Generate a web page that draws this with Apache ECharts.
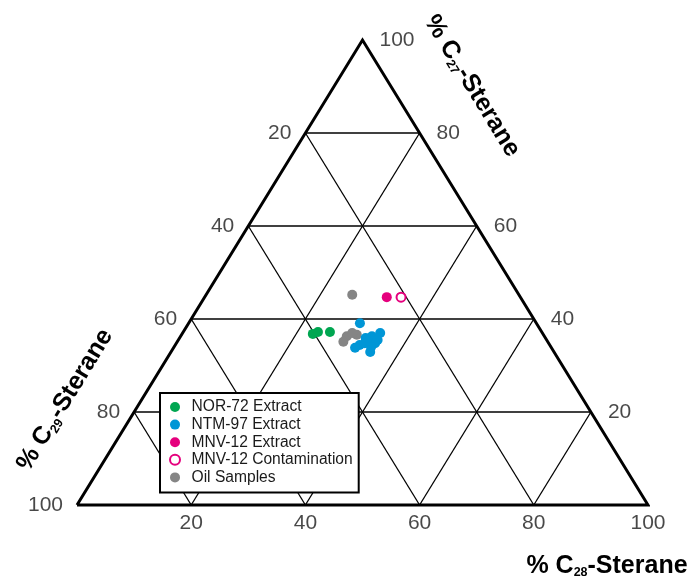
<!DOCTYPE html>
<html>
<head>
<meta charset="utf-8">
<script src="https://cdn.jsdelivr.net/npm/echarts@6/dist/echarts.min.js"></script>
<style>
  html, body { margin: 0; padding: 0; background: #fff; }
  #chart { width: 694px; height: 583px; }
</style>
</head>
<body>
<div id="chart"></div>
<script>
// Sterane composition, each sample as [C27 %, C28 %, C29 %]
const nor72 = [[36.8, 22.9, 40.3], [37.2, 23.6, 39.2], [37.2, 25.7, 37.1]];
const ntm97 = [
  [39.1, 30.0, 30.9], [35.9, 32.6, 31.5], [36.3, 33.5, 30.2], [37.0, 34.6, 28.4],
  [35.5, 34.9, 29.6], [34.8, 34.8, 30.4], [34.4, 32.3, 33.3], [33.8, 31.8, 34.4],
  [32.9, 34.9, 32.2], [35.3, 33.0, 31.7], [34.0, 34.5, 31.5], [34.8, 33.0, 32.2]
];
const mnv12 = [[44.7, 31.9, 23.4]];
const mnv12Contam = [[44.7, 34.4, 20.9]];
const oilSamples = [[45.2, 25.6, 29.2], [36.3, 29.1, 34.6], [36.6, 30.7, 32.7], [35.1, 29.1, 35.8], [37.0, 29.7, 33.3]];

const tickValues = [20, 40, 60, 80, 100];
const gridSteps = [20, 40, 60, 80];
const legendNames = ['NOR-72 Extract', 'NTM-97 Extract', 'MNV-12 Extract', 'MNV-12 Contamination', 'Oil Samples'];

const FONT = '"Liberation Sans", Arial, Helvetica, sans-serif';
const GREEN = '#00a651', BLUE = '#0096d6', MAGENTA = '#e5007d', GRAY = '#858585';

// ternary (C27, C28) -> plane coordinates; C27 = 100 at the apex, C28 = 100 at bottom right
function toXY(c27, c28) { return [c28 + c27 / 2, c27]; }
function pts(arr) { return arr.map(p => toXY(p[0], p[1])); }

const series = [];

// triangle outline
series.push({
  type: 'line', data: [toXY(0, 0), toXY(0, 100), toXY(100, 0), toXY(0, 0)],
  symbol: 'none', silent: true, clip: false, z: 3,
  lineStyle: { color: '#000', width: 3, join: 'miter' }, animation: false
});

// inner grid: constant C27, constant C28, constant C29
gridSteps.forEach(k => {
  const segs = [
    [toXY(k, 0), toXY(k, 100 - k)],            // C27 = k
    [toXY(0, k), toXY(100 - k, k)],            // C28 = k
    [toXY(0, 100 - k), toXY(100 - k, 0)]       // C29 = k
  ];
  segs.forEach(s => series.push({
    type: 'line', data: s, symbol: 'none', silent: true, clip: false, z: 2,
    lineStyle: { color: '#000', width: 1.3 }, animation: false
  }));
});

// tick labels along the three sides
const tickLabel = { show: true, color: '#1a1a1a', fontSize: 21, fontFamily: FONT, formatter: p => p.data.v };
series.push({
  type: 'scatter', symbolSize: 0, silent: true, clip: false, z: 4,
  data: tickValues.map(v => ({ value: toXY(100 - v, 0), v: v })),
  label: Object.assign({ position: 'left', distance: 14 }, tickLabel)
});
series.push({
  type: 'scatter', symbolSize: 0, silent: true, clip: false, z: 4,
  data: tickValues.map(v => ({ value: toXY(v, 100 - v), v: v })),
  label: Object.assign({ position: 'right', distance: 17 }, tickLabel)
});
series.push({
  type: 'scatter', symbolSize: 0, silent: true, clip: false, z: 4,
  data: tickValues.map(v => ({ value: toXY(0, v), v: v })),
  label: Object.assign({ position: 'bottom', distance: 8 }, tickLabel)
});

// samples
series.push({ name: 'Oil Samples', type: 'scatter', data: pts(oilSamples), symbolSize: 10, z: 5, itemStyle: { color: GRAY, opacity: 1 } });
series.push({ name: 'NOR-72 Extract', type: 'scatter', data: pts(nor72), symbolSize: 10, z: 5, itemStyle: { color: GREEN, opacity: 1 } });
series.push({ name: 'NTM-97 Extract', type: 'scatter', data: pts(ntm97), symbolSize: 10, z: 5, itemStyle: { color: BLUE, opacity: 1 } });
series.push({ name: 'MNV-12 Extract', type: 'scatter', data: pts(mnv12), symbolSize: 10, z: 5, itemStyle: { color: MAGENTA, opacity: 1 } });
series.push({ name: 'MNV-12 Contamination', type: 'scatter', data: pts(mnv12Contam), symbolSize: 9, z: 5,
  itemStyle: { color: '#fff', borderColor: MAGENTA, borderWidth: 2, opacity: 1 } });

const titleRich = {
  a: { fontSize: 25, fontWeight: 'bold', fontFamily: FONT, fill: '#000', lineHeight: 27 },
  s: { fontSize: 12.5, fontWeight: 'bold', fontFamily: FONT, fill: '#000', lineHeight: 8, verticalAlign: 'bottom' }
};
function axisTitle(sub, x, y, rot) {
  return {
    type: 'text', x: x, y: y, rotation: rot, z: 10,
    style: { text: '{a|% C}{s|' + sub + '}{a|-Sterane}', rich: titleRich, align: 'center', verticalAlign: 'middle' }
  };
}
const slope = Math.atan(465 / 285.5);

const chart = echarts.init(document.getElementById('chart'), null, { renderer: 'canvas' });
chart.setOption({
  animation: false,
  backgroundColor: '#fff',
  grid: { left: 77, right: 46, top: 40, bottom: 78 },
  xAxis: { type: 'value', min: 0, max: 100, show: false },
  yAxis: { type: 'value', min: 0, max: 100, show: false },
  legend: {
    data: legendNames.map(n => ({ name: n, icon: 'circle' })),
    orient: 'vertical', left: 160, top: 393,
    itemWidth: 23, itemHeight: 10, itemGap: 1.6,
    padding: [6, 6, 7, 9],
    backgroundColor: '#fff', borderColor: '#000', borderWidth: 2,
    selectedMode: false, z: 20,
    textStyle: { fontSize: 15.6, fontFamily: FONT, color: '#1a1a1a' }
  },
  graphic: [
    axisTitle('27', 472, 86, -slope),
    axisTitle('29', 65, 400, slope),
    axisTitle('28', 607, 566, 0)
  ],
  series: series
});
</script>
</body>
</html>
